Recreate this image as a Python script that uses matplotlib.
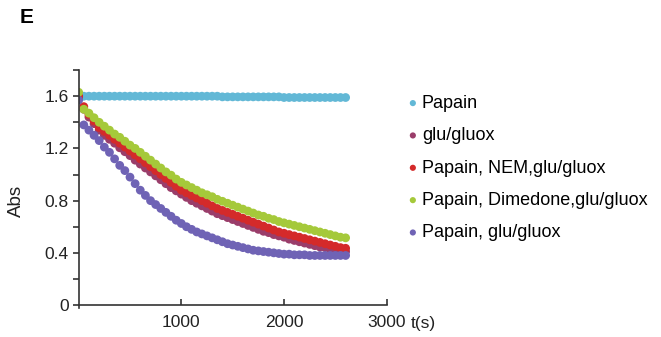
import numpy as np
import matplotlib
matplotlib.use("Agg")
import matplotlib.pyplot as plt

plt.rcParams["font.family"] = ["Liberation Sans", "DejaVu Sans"]

# time grid (s)
time_s = list(range(0, 2650, 50))

papain = [1.60, 1.60, 1.60, 1.60, 1.60, 1.60, 1.60, 1.60, 1.60, 1.60,
          1.60, 1.60, 1.60, 1.60, 1.60, 1.60, 1.60, 1.60, 1.60, 1.60,
          1.60, 1.60, 1.60, 1.60, 1.60, 1.60, 1.60, 1.60, 1.595, 1.595,
          1.595, 1.595, 1.595, 1.595, 1.595, 1.595, 1.595, 1.595, 1.595, 1.595,
          1.59, 1.59, 1.59, 1.59, 1.59, 1.59, 1.59, 1.59, 1.59, 1.59,
          1.59, 1.59, 1.59]

glu_gluox = [1.59, 1.50, 1.44, 1.39, 1.34, 1.30, 1.27, 1.24, 1.205, 1.175,
             1.145, 1.11, 1.08, 1.05, 1.02, 0.99, 0.96, 0.93, 0.90, 0.875,
             0.85, 0.825, 0.80, 0.78, 0.76, 0.74, 0.72, 0.70, 0.685, 0.67,
             0.655, 0.64, 0.625, 0.61, 0.595, 0.58, 0.565, 0.555, 0.54, 0.53,
             0.52, 0.505, 0.495, 0.485, 0.475, 0.465, 0.455, 0.445, 0.44, 0.43,
             0.42, 0.415, 0.41]

papain_nem = [1.60, 1.52, 1.46, 1.41, 1.36, 1.33, 1.30, 1.27, 1.24, 1.21,
              1.18, 1.15, 1.12, 1.09, 1.06, 1.03, 1.00, 0.97, 0.94, 0.91,
              0.88, 0.86, 0.84, 0.82, 0.80, 0.78, 0.76, 0.74, 0.725, 0.71,
              0.695, 0.68, 0.665, 0.65, 0.635, 0.62, 0.605, 0.59, 0.575, 0.56,
              0.55, 0.54, 0.53, 0.52, 0.51, 0.50, 0.49, 0.48, 0.47, 0.46,
              0.45, 0.44, 0.435]

papain_dimedone = [1.63, 1.50, 1.47, 1.435, 1.40, 1.37, 1.34, 1.31, 1.285, 1.255,
                   1.225, 1.20, 1.17, 1.14, 1.11, 1.08, 1.05, 1.02, 0.995, 0.965,
                   0.94, 0.92, 0.90, 0.88, 0.86, 0.845, 0.83, 0.81, 0.795, 0.78,
                   0.765, 0.75, 0.735, 0.72, 0.705, 0.69, 0.68, 0.665, 0.655, 0.64,
                   0.63, 0.62, 0.61, 0.60, 0.59, 0.58, 0.57, 0.56, 0.55, 0.54,
                   0.53, 0.52, 0.515]

papain_glu = [1.57, 1.38, 1.34, 1.30, 1.26, 1.21, 1.17, 1.12, 1.07, 1.03,
              0.98, 0.93, 0.88, 0.84, 0.80, 0.77, 0.74, 0.71, 0.68, 0.65,
              0.625, 0.60, 0.58, 0.56, 0.545, 0.53, 0.515, 0.50, 0.485, 0.47,
              0.46, 0.45, 0.44, 0.43, 0.42, 0.415, 0.41, 0.405, 0.40, 0.395,
              0.39, 0.39, 0.385, 0.385, 0.385, 0.38, 0.38, 0.38, 0.38, 0.38,
              0.38, 0.38, 0.38]

labels = ["Papain", "glu/gluox", "Papain, NEM,glu/gluox",
          "Papain, Dimedone,glu/gluox", "Papain, glu/gluox"]
colors = ["#62b8d6", "#9a3d6a", "#d42a2a", "#a5c93a", "#6f63b5"]
series = [papain, glu_gluox, papain_nem, papain_dimedone, papain_glu]

fig = plt.figure(figsize=(6.61, 3.37), dpi=100)
ax = fig.add_axes([0.119, 0.087, 0.466, 0.705])

for vals, lab, col in zip(series, labels, colors):
    ax.scatter(time_s, vals, s=40, color=col, label=lab, edgecolors="none")

ax.set_xlim(0, 3000)
ax.set_ylim(-0.02, 1.8)
ax.spines["top"].set_visible(False)
ax.spines["right"].set_visible(False)
ax.spines["bottom"].set_position(("data", 0))
for sp in ("left", "bottom"):
    ax.spines[sp].set_color("#333333")
    ax.spines[sp].set_linewidth(1.2)

ax.set_yticks([0, 0.4, 0.8, 1.2, 1.6])
ax.set_yticklabels(["0", "0.4", "0.8", "1.2", "1.6"])
ax.set_yticks([0.2, 0.6, 1.0, 1.4, 1.8], minor=True)
ax.set_xticks([1000, 2000, 3000])
ax.set_xticklabels(["1000", "2000", "3000"])
ax.tick_params(axis="y", which="both", direction="out", length=4, width=1.2,
               color="#333333", labelsize=12.5, labelcolor="#222222", pad=3)
ax.tick_params(axis="x", which="both", direction="in", length=4, width=1.2,
               color="#333333", labelsize=12.5, labelcolor="#222222", pad=7)

ax.set_ylabel("Abs", fontsize=13.5, color="#222222")
ax.yaxis.set_label_coords(-0.175, 0.45)

ax.annotate("t(s)", xy=(1, 0), xycoords="axes fraction", xytext=(17, -6),
            textcoords="offset points", ha="left", va="top", fontsize=12.5,
            color="#222222")

fig.text(0.03, 0.975, "E", fontsize=15, fontweight="bold", va="top", ha="left")

ax.legend(loc="upper left", bbox_to_anchor=(0.6, 0.74),
          bbox_transform=fig.transFigure, frameon=False, fontsize=13,
          handletextpad=0.0, labelspacing=0.85, markerscale=0.7,
          handlelength=1.0, borderaxespad=0)

fig.savefig("out.png", dpi=100)
